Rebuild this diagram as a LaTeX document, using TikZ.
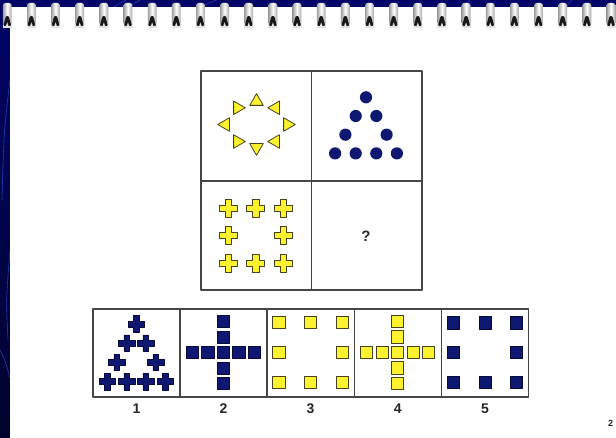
\documentclass[tikz,border=0pt]{standalone}
\usepackage{fontspec}
\setmainfont{Liberation Sans}
\newcommand\mytri[4]{\filldraw[#4, shift={(#1,#2)}] (#3:7.8) -- ({#3+120}:7.8) -- ({#3+240}:7.8) -- cycle;}
\newcommand\mycross[5]{\filldraw[#5, shift={(#1,#2)}] (-#4,-#3) -- (#4,-#3) -- (#4,-#4) -- (#3,-#4) -- (#3,#4) -- (#4,#4) -- (#4,#3) -- (-#4,#3) -- (-#4,#4) -- (-#3,#4) -- (-#3,-#4) -- (-#4,-#4) -- cycle;}
\newcommand\mysq[3]{\filldraw[#3] ({#1-6.1},{#2-6.1}) rectangle ({#1+6.1},{#2+6.1});}
\begin{document}
\begin{tikzpicture}[x=1pt,y=-1pt,line join=round]
\definecolor{bgtop}{RGB}{2,4,104}
\definecolor{bgbot}{RGB}{2,3,45}
\definecolor{arcblue}{RGB}{40,90,210}
\definecolor{shapeblue}{RGB}{14,24,112}
\definecolor{shapeblueline}{RGB}{6,10,60}
\definecolor{shapeyellow}{RGB}{252,242,48}
\definecolor{yline}{RGB}{70,66,30}
\definecolor{frameline}{RGB}{70,70,70}
\tikzset{
  frame/.style={draw=frameline, line width=1.1pt},
  yshape/.style={fill=shapeyellow, draw=yline, line width=0.8pt},
  bshape/.style={fill=shapeblue, draw=shapeblueline, line width=0.6pt},
  lab/.style={font=\fontsize{14}{16}\selectfont\bfseries, inner sep=0pt, text=black!85}
}
\useasboundingbox (0,0) rectangle (616,438);
% background
\shade[top color=bgtop, bottom color=bgbot] (0,0) rectangle (616,438);
\begin{scope}[draw=arcblue, line width=0.6pt, opacity=0.7]
  \draw (112,8) .. controls (118,4) .. (126,0);
  \draw (128,8) .. controls (133,4) .. (140,0);
  \draw (200,8) .. controls (207,4) .. (216,0);
  \draw (462,8) .. controls (466,4) .. (470,0);
  \draw (565,8) .. controls (568,4) .. (572,0);
  \draw (10,80) .. controls (4,130) .. (2,200);
  \draw (0,350) .. controls (5,360) .. (10,378);
  \draw (10,250) .. controls (6,300) .. (8,340);
\end{scope}
% page
\fill[white] (10,7) rectangle (616,438);
% spiral rings
\foreach \k in {-1,...,24}{
  \pgfmathsetmacro\cx{31.4+24.15*\k}
  \fill[gray!22] ({\cx-4.5},24) rectangle ({\cx+4.5},28.5);
  \shade[left color=gray!75, right color=gray!70, middle color=white, rounded corners=2.5pt]
     ({\cx-4.4},3) rectangle ({\cx+4.4},25.5);
  \fill[black!90, rounded corners=1pt] ({\cx-4},25.8) -- ({\cx-1.4},16) -- ({\cx+1.4},16) -- ({\cx+4},25.8) -- cycle;
  \fill[white!80!gray] ({\cx-1.2},25.8) -- ({\cx},22.5) -- ({\cx+1.2},25.8) -- cycle;
}
% matrix frame
\draw[frame] (201,71) rectangle (422,290);
\draw[frame] (311.5,71) -- (311.5,290);
\draw[frame] (201,181) -- (422,181);
% cell 1: triangles
\mytri{256.5}{101.5}{270}{yshape}
\mytri{275.5}{107.8}{180}{yshape}
\mytri{287.5}{124.5}{0}{yshape}
\mytri{275.5}{141.5}{180}{yshape}
\mytri{256.5}{147.5}{90}{yshape}
\mytri{237.5}{141.5}{0}{yshape}
\mytri{225.5}{124.5}{180}{yshape}
\mytri{237.5}{107.8}{0}{yshape}
% cell 2: circles
\foreach \p in {(366,97.3),(355.7,116),(376.3,116),(345.4,134.7),(386.6,134.7),(335.1,153.4),(355.7,153.4),(376.3,153.4),(396.9,153.4)}
  \fill[shapeblue] \p circle (6.1);
% cell 3: crosses
\foreach \cxx/\cyy in {228.3/208.3,255.8/208.3,283.3/208.3,228.3/235.8,283.3/235.8,228.3/263.3,255.8/263.3,283.3/263.3}
  {\mycross{\cxx}{\cyy}{9}{3.1}{yshape}}
% cell 4
\node[lab, font=\fontsize{15}{17}\selectfont\bfseries] (q) at (366,236.5) {?};
% options frame
\draw[frame] (93,309) rectangle (528.5,397);
\foreach \xx in {180,267,354.2,441.3} \draw[frame] (\xx,309) -- (\xx,397);
% option 1: crosses triangle
\foreach \cxx/\cyy in {136.3/324,126.8/343.2,145.8/343.2,116.8/362.4,155.8/362.4,107.3/381.6,126.8/381.6,145.8/381.6,165.3/381.6}
  {\mycross{\cxx}{\cyy}{8.2}{2.9}{bshape}}
% option 2: blue cross of squares
\foreach \yy in {321.5,337,368,383.5} {\mysq{223.3}{\yy}{bshape}}
\foreach \xx in {192.3,207.8,223.3,238.8,254.3} {\mysq{\xx}{352.5}{bshape}}
% option 3: yellow ring of squares
\foreach \xx/\yy in {278.8/322.8,310.4/322.8,342/322.8,278.8/352.5,342/352.5,278.8/382.2,310.4/382.2,342/382.2}
  {\mysq{\xx}{\yy}{yshape}}
% option 4: yellow cross of squares
\foreach \yy in {321.5,337,368,383.5} {\mysq{397.6}{\yy}{yshape}}
\foreach \xx in {366.6,382.1,397.6,413.1,428.6} {\mysq{\xx}{352.5}{yshape}}
% option 5: blue ring of squares
\foreach \xx/\yy in {453.4/322.8,485/322.8,516.4/322.8,453.4/352.5,516.4/352.5,453.4/382.2,485/382.2,516.4/382.2}
  {\mysq{\xx}{\yy}{bshape}}
% labels
\node[lab] (l1) at (136.5,408.5) {1};
\node[lab] (l2) at (223.4,408.5) {2};
\node[lab] (l3) at (310.6,408.5) {3};
\node[lab] (l4) at (397.8,408.5) {4};
\node[lab] (l5) at (485,408.5) {5};
\node[font=\fontsize{9}{10}\selectfont\bfseries, inner sep=0pt, text=black!85] (pg) at (610.5,423.5) {2};
\end{tikzpicture}
\end{document}
